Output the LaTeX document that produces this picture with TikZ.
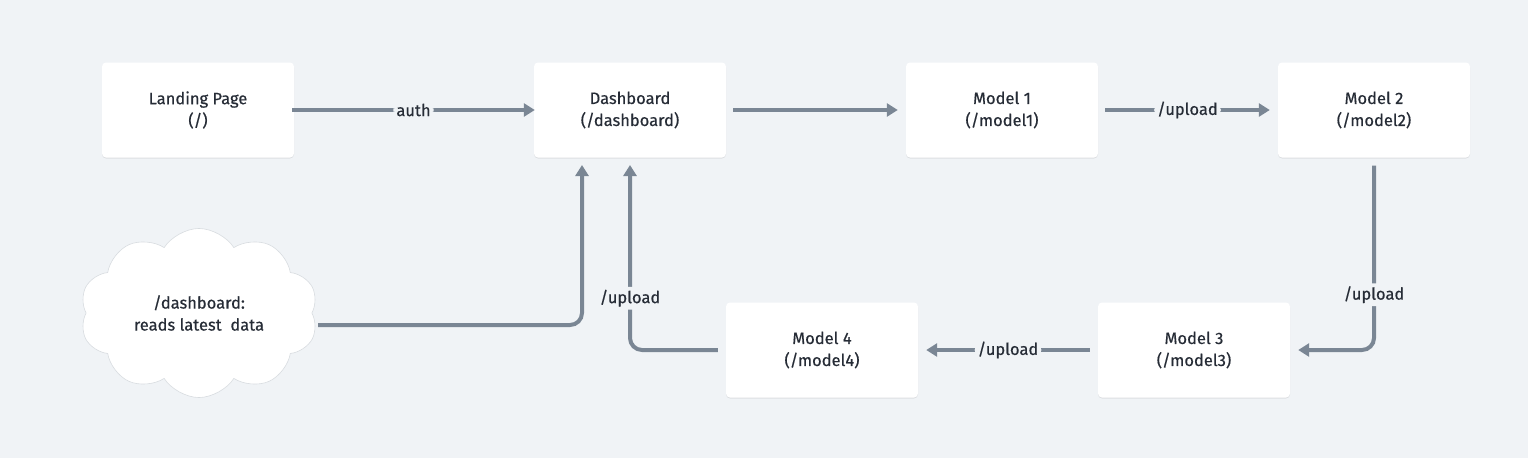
\documentclass[tikz,border=0pt]{standalone}
\usepackage{fontspec}
\setmainfont{Fira Sans}[UprightFeatures={FakeBold=0.5}]
\usetikzlibrary{arrows.meta,shapes.symbols,shadows}
\definecolor{bgc}{HTML}{F0F3F6}
\definecolor{linec}{HTML}{7A8694}
\definecolor{txtc}{HTML}{262C36}
\definecolor{cloudb}{HTML}{D8DCE0}
\tikzset{
  pagebox/.style={draw=none,fill=white,rounded corners=4pt,minimum width=192pt,minimum height=95pt,
    align=center,text=txtc,font=\fontsize{16.5}{22}\selectfont,
    drop shadow={shadow xshift=0pt,shadow yshift=-1pt,opacity=0.08,fill=black}},
  conn/.style={draw=linec,line width=4pt,rounded corners=12pt,-{Triangle[length=11pt,width=13pt]}},
  lbl/.style={fill=bgc,text=txtc,font=\fontsize{16.5}{18}\selectfont,inner sep=3pt}
}
\begin{document}
\begin{tikzpicture}[x=1pt,y=-1pt]
\fill[bgc] (0,0) rectangle (1528,458);
\useasboundingbox (0,0) rectangle (1528,458);
\node[pagebox] (land) at (198,110) {Landing Page\\(/)};
\node[pagebox] (dash) at (630,110) {Dashboard\\(/dashboard)};
\node[pagebox] (m1) at (1002,110) {Model 1\\(/model1)};
\node[pagebox] (m2) at (1374,110) {Model 2\\(/model2)};
\node[pagebox] (m3) at (1194,350) {Model 3\\(/model3)};
\node[pagebox] (m4) at (822,350) {Model 4\\(/model4)};
\node[cloud,cloud puffs=10,cloud puff arc=115,aspect=1.35,draw=cloudb,line width=0.6pt,fill=white,
  minimum width=238pt,minimum height=168pt,align=center,text=txtc,font=\fontsize{16.5}{22}\selectfont]
  (cl) at (199,313) {/dashboard:\\reads latest\ \ data};
% connectors
\coordinate (d1) at (582,165);
\coordinate (d2) at (630,165);
\draw[conn] ([xshift=-2pt]land.east) -- node[lbl]{auth} ([xshift=1pt]dash.west);
\draw[conn] ([xshift=7pt]dash.east) -- ([xshift=-8pt]m1.west);
\draw[conn] ([xshift=7pt]m1.east) -- node[lbl]{/upload} ([xshift=-8pt]m2.west);
\draw[conn] ([yshift=-8pt]m2.south) -- node[lbl,pos=0.7]{/upload} (1374,350) -- ([xshift=8pt]m3.east);
\draw[conn] ([xshift=-8pt]m3.west) -- node[lbl]{/upload} ([xshift=8pt]m4.east);
\draw[conn] ([xshift=-8pt]m4.west) -- (630,350) -- node[lbl,pos=0.28]{/upload} (d2);
\draw[conn] ([xshift=6pt]cl.east |- 0,325) -- (582,325) -- (d1);
\end{tikzpicture}
\end{document}
